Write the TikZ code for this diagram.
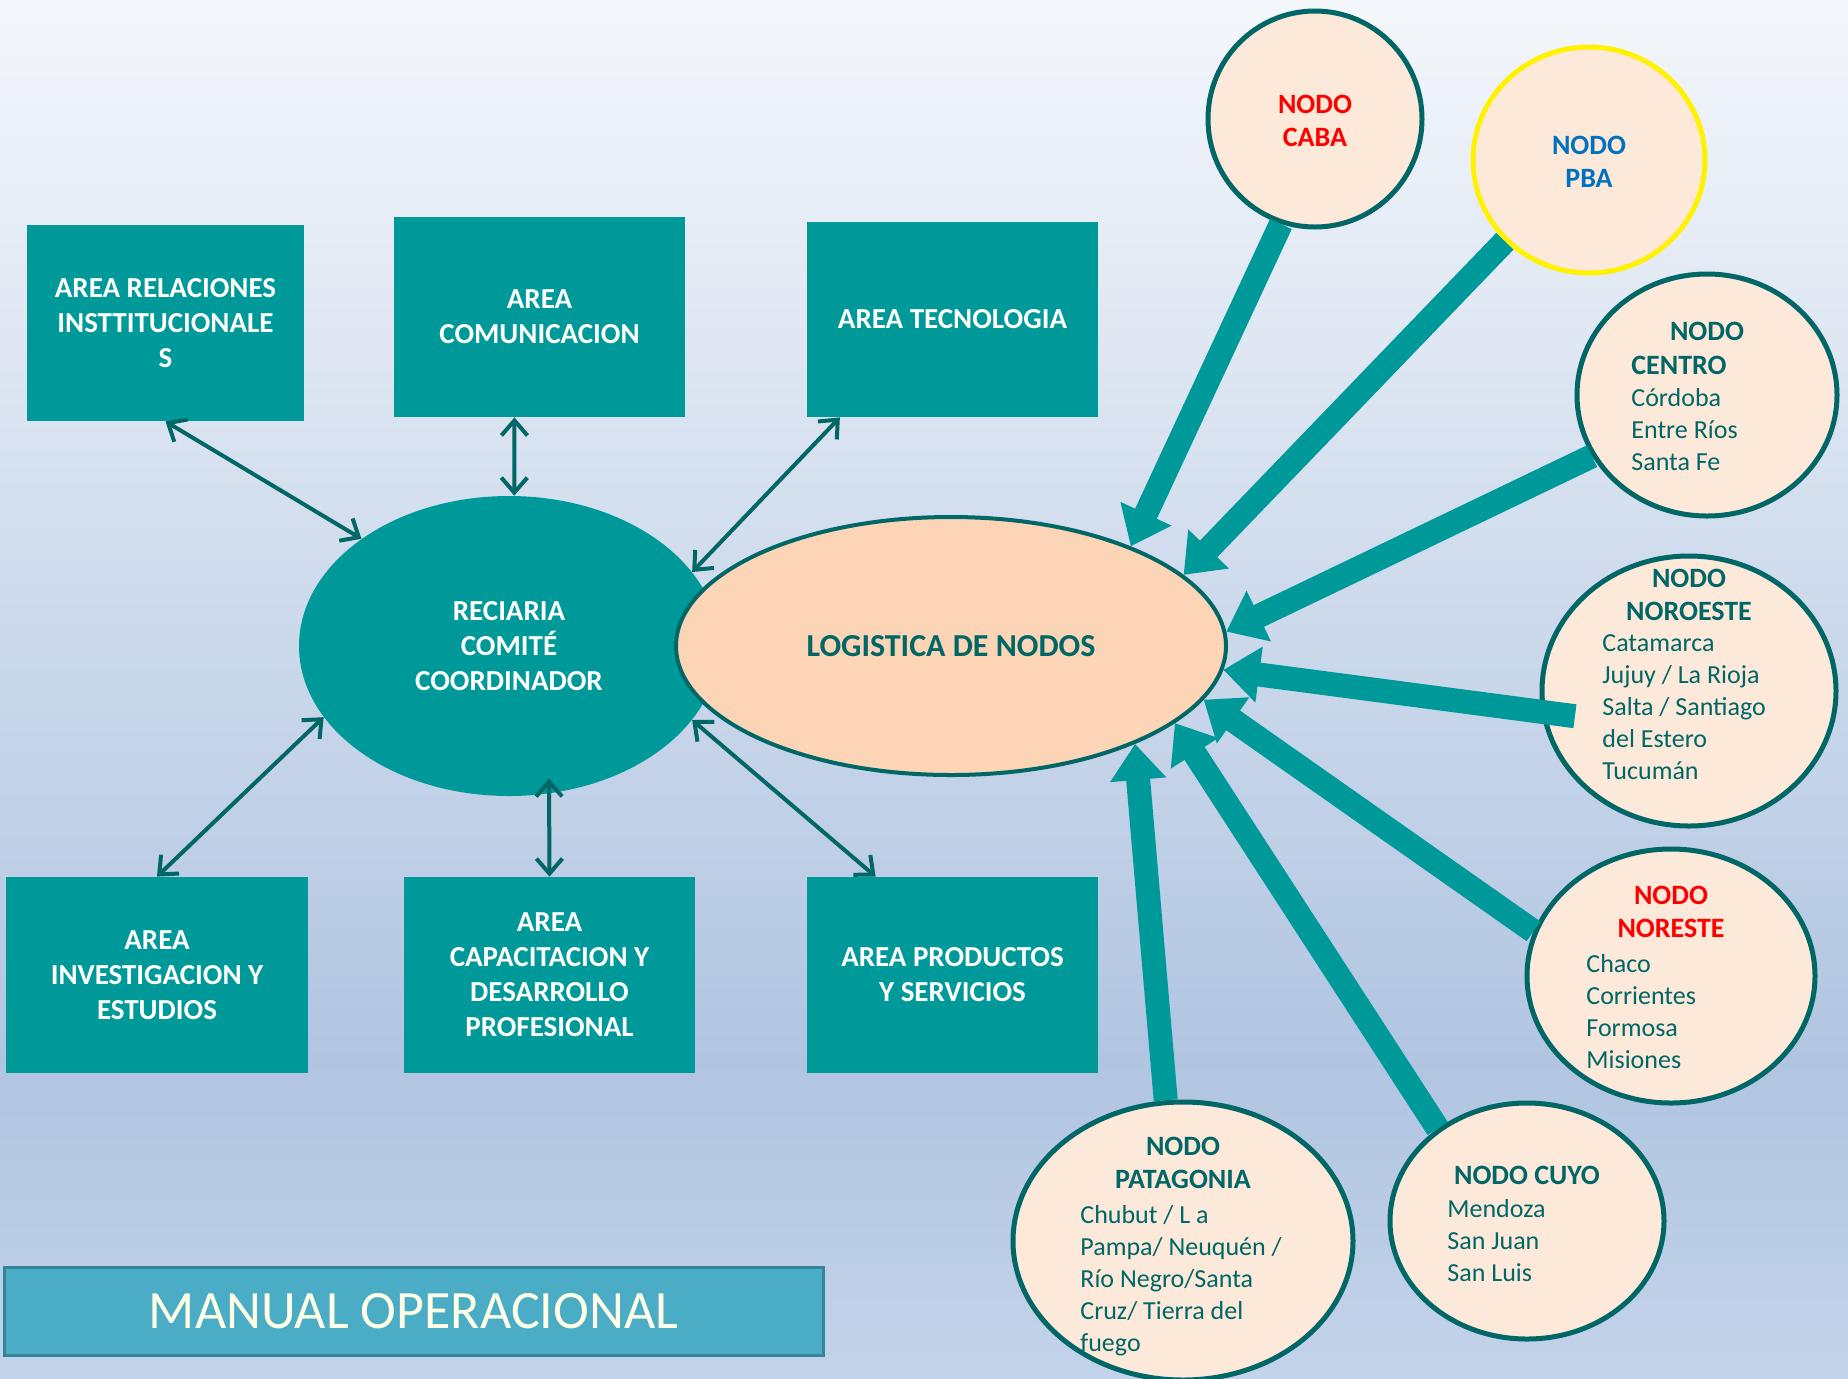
\documentclass[tikz,border=0pt]{standalone}
\usepackage{fontspec}
\setmainfont{Carlito}
\usetikzlibrary{shapes.geometric,arrows.meta,calc}
\definecolor{tealbox}{HTML}{009999}
\definecolor{tealdark}{HTML}{006666}
\definecolor{peachlight}{HTML}{FDE9D9}
\definecolor{peachmid}{HTML}{FBD5B5}
\definecolor{nodored}{HTML}{FF0000}
\definecolor{nodoblue}{HTML}{0070C0}
\definecolor{manualfill}{HTML}{4BACC6}
\definecolor{manualline}{HTML}{31859C}
\definecolor{manualtext}{HTML}{FFFFE5}
\definecolor{bgtop}{HTML}{F4F7FB}
\definecolor{bgmid}{HTML}{B1C5E1}
\definecolor{bgbot}{HTML}{C3D3E9}
\tikzset{
  areabox/.style={rectangle, fill=tealbox, text=white, inner sep=0pt, align=center, font=\bfseries\fontsize{14.5}{17.5}\selectfont},
  nodocirc/.style={ellipse, draw=tealdark, line width=2.5pt, fill=peachlight, inner sep=0pt},
  nodotitle/.style={align=center, text=tealdark, inner sep=0pt, font=\bfseries\fontsize{14}{16.5}\selectfont},
  nodolist/.style={align=left, anchor=north west, text=tealdark, inner sep=0pt, font=\fontsize{13}{16}\selectfont},
  biglink/.style={draw=tealbox, line width=12pt, -{Triangle[length=18pt,width=27pt]}},
  arealink/.style={draw=tealdark, line width=2pt, line cap=round, {Straight Barb[length=7.5pt,width=13pt]}-{Straight Barb[length=7.5pt,width=13pt]}}
}
\begin{document}
\begin{tikzpicture}[x=0.5pt, y=-0.5pt]
			%%%%% START %%%%%
			\useasboundingbox (0,0) rectangle (1848,1378);
			\shade[top color=bgtop, bottom color=bgmid] (0,0) rectangle (1848,1060);
			\shade[top color=bgmid, bottom color=bgbot] (0,1060) rectangle (1848,1378);
			
			\node[areabox, minimum width=138.5pt, minimum height=98pt] (relaciones) at (165.5,323) {AREA RELACIONES\\INSTTITUCIONALE\\S};
			\node[areabox, minimum width=145.5pt, minimum height=100pt] (comunicacion) at (539.5,317) {AREA\\COMUNICACION};
			\node[areabox, minimum width=145.5pt, minimum height=97.5pt] (tecnologia) at (952.5,319.5) {AREA TECNOLOGIA};
			\node[areabox, minimum width=151pt, minimum height=98pt] (investigacion) at (157,975) {AREA\\INVESTIGACION Y\\ESTUDIOS};
			\node[areabox, minimum width=145.5pt, minimum height=98pt] (capacitacion) at (549.5,975) {AREA\\CAPACITACION Y\\DESARROLLO\\PROFESIONAL};
			\node[areabox, minimum width=145.5pt, minimum height=98pt] (productos) at (952.5,975) {AREA PRODUCTOS\\Y SERVICIOS};
			
			\node[ellipse, fill=tealbox, text=white, inner sep=0pt, minimum width=210pt, minimum height=150pt, align=center, font=\bfseries\fontsize{14.5}{17.5}\selectfont] (reciaria) at (509,646) {RECIARIA\\COMITÉ\\COORDINADOR};
			\node[ellipse, draw=tealdark, line width=2pt, fill=peachmid, text=tealdark, inner sep=0pt, minimum width=275pt, minimum height=129pt, font=\bfseries\fontsize{16}{19}\selectfont] (logistica) at (951,646) {LOGISTICA DE NODOS};
			
			\draw[arealink] (relaciones.south) -- (reciaria.144);
			\draw[arealink] (comunicacion.256) -- (reciaria.88);
			\draw[arealink] (tecnologia.221) -- (reciaria.22);
			\draw[arealink] (investigacion.north) -- (reciaria.201);
			\draw[arealink] (capacitacion.north) -- ($(reciaria.south)+(40,-18)$);
			\draw[arealink] (productos.128) -- (reciaria.-22);
			
			% nodos
			\node[nodocirc, minimum width=107pt, minimum height=108pt] (caba) at (1315,119) {};
			\node[nodocirc, draw=yellow, minimum width=116pt, minimum height=113pt] (pba) at (1589,160) {};
			\node[nodocirc, minimum width=130pt, minimum height=121pt] (centro) at (1707,395) {};
			\node[nodocirc, minimum width=147pt, minimum height=135pt] (noroeste) at (1689,691) {};
			\node[nodocirc, minimum width=144pt, minimum height=127pt] (noreste) at (1671,976) {};
			\node[nodocirc, minimum width=137pt, minimum height=118pt] (cuyo) at (1527,1221) {};
			\node[nodocirc, minimum width=170pt, minimum height=139pt] (patagonia) at (1183,1241) {};
			
			\node[nodotitle, text=nodored] (cabatitle) at (1315,120.5) {NODO\\CABA};
			\node[nodotitle, text=nodoblue] (pbatitle) at (1589,161.5) {NODO\\PBA};
			\node[nodotitle] (centrotitle) at (1707,331) {NODO};
			\node[nodolist] (centrolist) at (1631,356) {\textbf{\fontsize{14}{16}\selectfont CENTRO}\\Córdoba\\Entre Ríos\\Santa Fe};
			\node[nodotitle] (noroestetitle) at (1689,594.5) {NODO\\NOROESTE};
			\node[nodolist] (noroestelist) at (1602,634) {Catamarca\\Jujuy / La Rioja\\Salta / Santiago\\del Estero\\Tucumán};
			\node[nodotitle, text=nodored] (norestetitle) at (1671,912) {NODO\\NORESTE};
			\node[nodolist] (norestelist) at (1586,954) {Chaco\\Corrientes\\Formosa\\Misiones};
			\node[nodotitle] (cuyotitle) at (1527,1175) {NODO CUYO};
			\node[nodolist] (cuyolist) at (1447,1199) {Mendoza\\San Juan\\San Luis};
			\node[nodotitle] (patagoniatitle) at (1183,1163) {NODO\\PATAGONIA};
			\node[nodolist] (patagonialist) at (1080,1205) {Chubut / L a\\Pampa/ Neuquén /\\Río Negro/Santa\\Cruz/ Tierra del\\fuego};
			
			\draw[biglink] (caba.252) -- (logistica.29);
			\draw[biglink] (pba.224) -- (logistica.17);
			\draw[biglink] (centro.208) -- (logistica.3);
			\draw[biglink, shorten <=-17pt] (noroeste.188) -- (logistica.-5);
			\draw[biglink] (noreste.162) -- (logistica.-12);
			\draw[biglink] (cuyo.134) -- (logistica.-19);
			\draw[biglink] (patagonia.97) -- (logistica.-28);
			
			\node[rectangle, fill=manualfill, draw=manualline, line width=1.5pt, minimum width=409.5pt, minimum height=44pt, inner sep=0pt, text=manualtext, font=\fontsize{27}{30}\selectfont] (manual) at (413.5,1311) {MANUAL OPERACIONAL};
			%%%%% END %%%%%
\end{tikzpicture}
\end{document}
